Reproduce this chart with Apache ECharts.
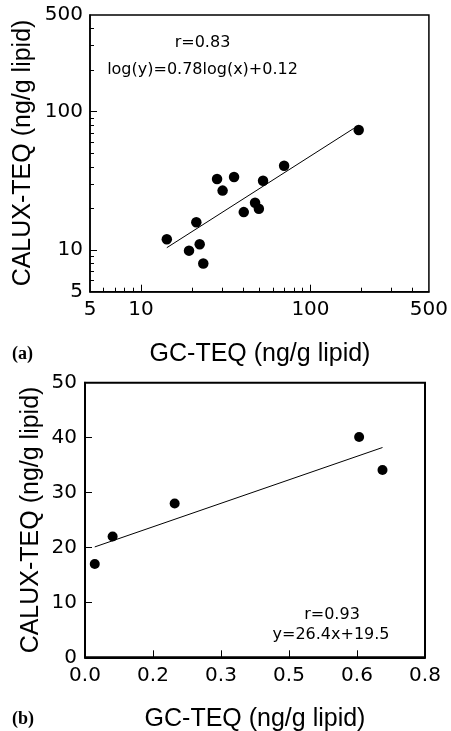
<!DOCTYPE html>
<html>
<head>
<meta charset="utf-8">
<script src="https://cdn.jsdelivr.net/npm/echarts@6/dist/echarts.min.js"></script>
<style>
html,body{margin:0;padding:0;background:#fff;}
#chart{width:451px;height:731px;}
</style>
</head>
<body>
<div id="chart"></div>
<script>
// ---- Panel (a): log-log ----
const gcTeqA = [14.2, 19.2, 22.2, 23.3, 21.2, 28.1, 30.3, 35.4, 40.4, 47.1, 49.6, 52.5, 69.9, 192.6];
const caluxA = [11.96, 9.9, 11.0, 8.0, 15.9, 32.6, 26.9, 33.7, 18.8, 22.0, 19.9, 31.7, 40.7, 73.8];
const fitAX = [14.2, 180];
const fitAY = [10.4, 75.7];
const logMajorLabels = [5, 10, 100, 500];
const logMajorTicks = [10, 100];
const logMinorTicks = [6, 7, 8, 9, 20, 30, 40, 50, 60, 70, 80, 90, 200, 300, 400];

// ---- Panel (b): linear ----
const gcTeqB = [0.023, 0.065, 0.211, 0.645, 0.700];
const caluxB = [17.0, 22.0, 28.0, 40.1, 34.1];
const fitBX = [0.023, 0.700];
const fitBY = [20.1, 38.2];

const textA = ['r=0.83', 'log(y)=0.78log(x)+0.12'];
const textB = ['r=0.93', 'y=26.4x+19.5'];
const xTitle = 'GC-TEQ (ng/g lipid)';
const yTitle = 'CALUX-TEQ (ng/g lipid)';

const zip = (a, b) => a.map((v, i) => [v, b[i]]);

const tickFont = {color: '#000', fontFamily: 'DejaVu Sans', fontSize: 20};
const black = '#000';

const chart = echarts.init(document.getElementById('chart'), null, {renderer: 'canvas'});

const option = {
  animation: false,
  backgroundColor: '#fff',
  grid: [
    {left: 90, top: 15, width: 339.3, height: 276.7, show: true, borderColor: black, borderWidth: 1.5, backgroundColor: 'transparent'},
    {left: 85, top: 382.7, width: 340, height: 274.6, show: true, borderColor: black, borderWidth: 2, backgroundColor: 'transparent'}
  ],
  xAxis: [
    {type: 'log', logBase: 10, gridIndex: 0, position: 'bottom', min: 5, max: 500,
      axisLine: {show: true, lineStyle: {color: black, width: 1.5}},
      axisTick: {show: true, inside: true, length: 7, customValues: logMajorTicks, lineStyle: {color: black, width: 1}},
      axisLabel: Object.assign({show: true, margin: 8, customValues: logMajorLabels, formatter: v => String(v)}, tickFont),
      splitLine: {show: false}},
    {type: 'log', logBase: 10, gridIndex: 0, position: 'bottom', offset: 0, min: 5, max: 500,
      axisLine: {show: false},
      axisTick: {show: true, inside: true, length: 4, customValues: logMinorTicks, lineStyle: {color: black, width: 1}},
      axisLabel: {show: false},
      splitLine: {show: false}},
    {type: 'value', gridIndex: 1, position: 'bottom', min: 0, max: 0.8, interval: 0.16,
      axisLine: {show: true, lineStyle: {color: black, width: 2}},
      axisTick: {show: true, inside: true, length: 7, lineStyle: {color: black, width: 1}},
      axisLabel: Object.assign({show: true, margin: 8, formatter: v => v.toFixed(1)}, tickFont),
      splitLine: {show: false}}
  ],
  yAxis: [
    {type: 'log', logBase: 10, gridIndex: 0, position: 'left', min: 5, max: 500,
      axisLine: {show: true, lineStyle: {color: black, width: 1.5}},
      axisTick: {show: true, inside: true, length: 7, customValues: logMajorTicks, lineStyle: {color: black, width: 1}},
      axisLabel: Object.assign({show: true, margin: 7, padding: [6, 0, 0, 0], customValues: logMajorLabels, formatter: v => String(v)}, tickFont),
      splitLine: {show: false}},
    {type: 'log', logBase: 10, gridIndex: 0, position: 'left', offset: 0, min: 5, max: 500,
      axisLine: {show: false},
      axisTick: {show: true, inside: true, length: 4, customValues: logMinorTicks, lineStyle: {color: black, width: 1}},
      axisLabel: {show: false},
      splitLine: {show: false}},
    {type: 'value', gridIndex: 1, position: 'left', min: 0, max: 50, interval: 10,
      axisLine: {show: true, lineStyle: {color: black, width: 2}},
      axisTick: {show: true, inside: true, length: 7, lineStyle: {color: black, width: 1}},
      axisLabel: Object.assign({show: true, margin: 8, padding: [5, 0, 0, 0]}, tickFont),
      splitLine: {show: false}}
  ],
  series: [
    {type: 'scatter', xAxisIndex: 0, yAxisIndex: 0, data: zip(gcTeqA, caluxA),
      symbol: 'circle', symbolSize: 10.5, itemStyle: {color: black, opacity: 1}, z: 3},
    {type: 'line', xAxisIndex: 0, yAxisIndex: 0, data: zip(fitAX, fitAY),
      showSymbol: false, lineStyle: {color: black, width: 1}, z: 2},
    {type: 'scatter', xAxisIndex: 2, yAxisIndex: 2, data: zip(gcTeqB, caluxB),
      symbol: 'circle', symbolSize: 10, itemStyle: {color: black, opacity: 1}, z: 3},
    {type: 'line', xAxisIndex: 2, yAxisIndex: 2, data: zip(fitBX, fitBY),
      showSymbol: false, lineStyle: {color: black, width: 1}, z: 2}
  ],
  graphic: [
    {type: 'text', x: 23.5, y: 153, rotation: Math.PI / 2,
      style: {text: yTitle, fill: black, font: '25px "Liberation Sans", Arial, sans-serif', align: 'center', verticalAlign: 'middle'}},
    {type: 'text', x: 260, y: 354,
      style: {text: xTitle, fill: black, font: '25px "Liberation Sans", Arial, sans-serif', align: 'center', verticalAlign: 'middle'}},
    {type: 'text', x: 31, y: 520, rotation: Math.PI / 2,
      style: {text: yTitle, fill: black, font: '25px "Liberation Sans", Arial, sans-serif', align: 'center', verticalAlign: 'middle'}},
    {type: 'text', x: 255, y: 719,
      style: {text: xTitle, fill: black, font: '25px "Liberation Sans", Arial, sans-serif', align: 'center', verticalAlign: 'middle'}},
    {type: 'text', x: 12, y: 354,
      style: {text: '(a)', fill: black, font: 'bold 18px "Liberation Serif", "Times New Roman", serif', align: 'left', verticalAlign: 'middle'}},
    {type: 'text', x: 12, y: 719,
      style: {text: '(b)', fill: black, font: 'bold 18px "Liberation Serif", "Times New Roman", serif', align: 'left', verticalAlign: 'middle'}},
    {type: 'text', x: 202.5, y: 43,
      style: {text: textA[0], fill: black, font: '16px "DejaVu Sans", sans-serif', align: 'center', verticalAlign: 'middle'}},
    {type: 'text', x: 202.5, y: 70,
      style: {text: textA[1], fill: black, font: '16px "DejaVu Sans", sans-serif', align: 'center', verticalAlign: 'middle'}},
    {type: 'text', x: 332, y: 615,
      style: {text: textB[0], fill: black, font: '16px "DejaVu Sans", sans-serif', align: 'center', verticalAlign: 'middle'}},
    {type: 'text', x: 331, y: 635,
      style: {text: textB[1], fill: black, font: '16px "DejaVu Sans", sans-serif', align: 'center', verticalAlign: 'middle'}}
  ]
};
chart.setOption(option);
</script>
</body>
</html>
